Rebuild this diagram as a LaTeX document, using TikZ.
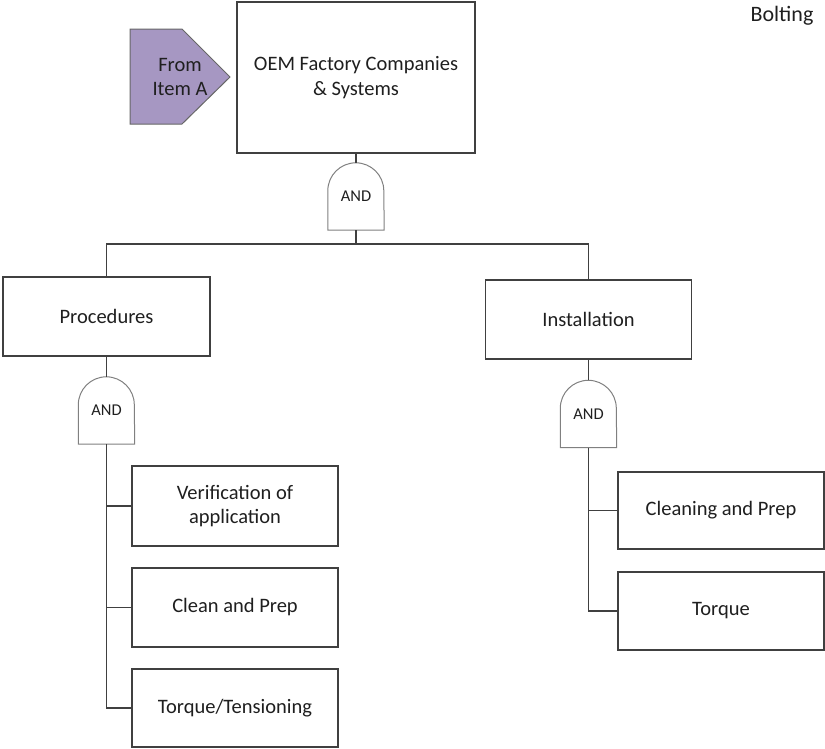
\documentclass[tikz,border=0pt]{standalone}
\usepackage{fontspec}
\setmainfont{Carlito}
\definecolor{tabpurple}{RGB}{166,151,194}
\begin{document}
\begin{tikzpicture}[x=1pt,y=-1pt,
  txt/.style={text=black!88, font=\fontsize{20.5}{24.5}\selectfont, align=center},
  box/.style={txt, draw=black!75, line width=1.3pt, fill=white, inner sep=0pt},
  gatebox/.style={text=black!88, font=\fontsize{16.5}{19}\selectfont, minimum width=56pt, minimum height=67pt, inner sep=0pt},
  gateline/.style={draw=black!50, line width=1pt},
  wire/.style={draw=black!75, line width=1.3pt},
  tabfill/.style={fill=tabpurple, draw=black!60, line width=1pt}]
\useasboundingbox (0,0) rectangle (825,748);

% title
\node[txt, font=\fontsize{22}{26}\selectfont] (title) at (782,16) {Bolting};

% transfer-in marker
\draw[tabfill] (130,29) -- (182,29) -- (230,77) -- (182,124) -- (130,124) -- cycle;
\node[txt, fill=none] (from) at (180,77) {From\\Item A};

% top event
\node[box, minimum width=238pt, minimum height=151pt] (oem) at (356,77.5) {OEM Factory Companies\\\& Systems};

% AND gates
\newcommand{\andgate}[3]{%
  \node[gatebox] (#1) at (#2,#3) {AND};
  \draw[gateline] (#1.south west) -- ([yshift=-28pt]#1.north west)
    arc[start angle=180,end angle=0,radius=28pt] -- (#1.south east) -- cycle;}
\andgate{g1}{356}{196.5}
\andgate{g2}{106.5}{410.5}
\andgate{g3}{588.5}{414}

% intermediate events
\node[box, minimum width=207pt, minimum height=79pt] (proc) at (106.5,316.5) {Procedures};
\node[box, minimum width=206pt, minimum height=79pt] (inst) at (588.5,319.5) {Installation};

% basic events
\node[box, minimum width=206pt, minimum height=80pt] (c1) at (235,506) {Verification of\\application};
\node[box, minimum width=206pt, minimum height=79pt] (c2) at (235,607.5) {Clean and Prep};
\node[box, minimum width=206pt, minimum height=78pt] (c3) at (235,708) {Torque/Tensioning};
\node[box, minimum width=206pt, minimum height=77pt] (r1) at (721,510.5) {Cleaning and Prep};
\node[box, minimum width=206pt, minimum height=78pt] (r2) at (721,611) {Torque};

% connectors
\coordinate (bus) at (356,244);
\draw[wire] (oem.south) -- (g1.north);
\draw[wire] (g1.south) -- (bus);
\draw[wire] (proc.north) |- (bus) -| (inst.north);
\draw[wire] (proc.south) -- (g2.north);
\draw[wire] (inst.south) -- (g3.north);
\draw[wire] (g2.south) |- (c3.west);
\draw[wire] (g2.south |- c1.west) -- (c1.west);
\draw[wire] (g2.south |- c2.west) -- (c2.west);
\draw[wire] (g3.south) |- (r2.west);
\draw[wire] (g3.south |- r1.west) -- (r1.west);
\end{tikzpicture}
\end{document}
